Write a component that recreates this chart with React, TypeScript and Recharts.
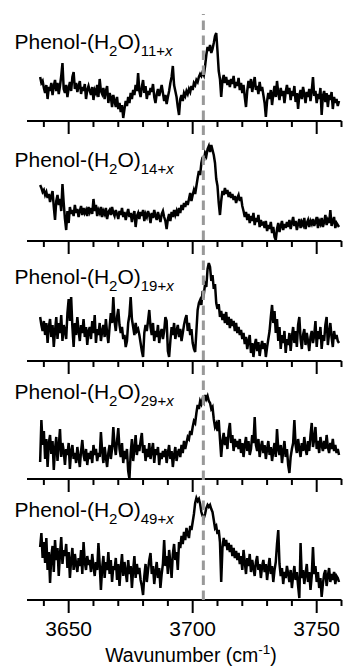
import { LineChart, Line, XAxis, YAxis, ReferenceLine } from "recharts";

// sampling grid of the spectra (cm^-1)
const startWavenumber = 3638.5;
const stepWavenumber = 0.5;

// signal heights, arbitrary units
const phenol11 = [
  44, 38, 40, 33, 28, 36, 22, 34, 30, 38, 26, 35, 41, 30, 38, 27, 35, 45, 58, 32,
  28, 36, 24, 33, 39, 30, 44, 49, 32, 38, 29, 35, 40, 27, 34, 30, 37, 22, 31, 35,
  30, 26, 34, 21, 31, 28, 36, 24, 42, 30, 27, 33, 22, 30, 35, 18, 28, 24, 14, 26,
  20, 14, 24, 12, 18, 9, 16, 3, 12, 20, 15, 24, 18, 28, 22, 31, 26, 36, 30, 48,
  30, 24, 34, 41, 28, 35, 22, 30, 26, 33, 29, 37, 24, 18, 27, 32, 25, 30, 36, 28,
  20, 26, 17, 24, 30, 38, 44, 55, 36, 30, 24, 14, 6, 22, 26, 20, 28, 25, 30, 27,
  32, 29, 35, 31, 38, 36, 41, 39, 44, 47, 45, 49, 46, 55, 66, 74, 70, 76, 68, 72,
  78, 85, 88, 70, 50, 42, 24, 40, 46, 38, 44, 36, 41, 34, 42, 37, 45, 33, 39, 35,
  43, 31, 38, 28, 36, 24, 14, 30, 40, 33, 42, 29, 37, 44, 31, 35, 27, 39, 30, 34,
  26, 18, 4, 20, 28, 22, 31, 16, 27, 35, 24, 40, 28, 21, 33, 25, 30, 18, 29, 36,
  27, 33, 21, 30, 25, 35, 19, 28, 12, 26, 31, 22, 34, 27, 18, 29, 24, 32, 20, 30,
  44, 25, 30, 18, 27, 22, 33, 6, 25, 30, 19, 28, 14, 26, 21, 29, 12, 24, 18, 22,
  15, 20,
];

const phenol14 = [
  56, 53, 49, 51, 46, 49, 43, 47, 39, 45, 50, 34, 21, 40, 46, 36, 42, 30, 57, 38,
  22, 11, 30, 18, 34, 27, 31, 25, 36, 28, 32, 24, 30, 35, 26, 33, 28, 31, 25, 34,
  29, 33, 27, 42, 30, 36, 25, 31, 28, 34, 24, 30, 27, 33, 22, 29, 31, 26, 34, 28,
  25, 31, 27, 22, 30, 26, 33, 24, 29, 21, 27, 32, 24, 28, 19, 26, 30, 14, 25, 28,
  22, 29, 25, 31, 20, 27, 24, 30, 26, 18, 28, 23, 31, 25, 21, 29, 24, 19, 27, 30,
  24, 20, 12, 22, 27, 20, 29, 24, 31, 26, 30, 25, 33, 28, 36, 31, 38, 34, 40, 36,
  42, 48, 40, 46, 51, 47, 55, 63, 70, 66, 78, 84, 80, 88, 85, 92, 95, 89, 96, 91,
  86, 78, 62, 55, 38, 26, 40, 50, 46, 53, 47, 51, 44, 49, 43, 47, 41, 45, 38, 43,
  46, 40, 44, 35, 30, 24, 29, 21, 27, 18, 25, 20, 28, 16, 23, 19, 26, 14, 21, 17,
  18, 13, 20, 10, 16, 12, 19, 8, 14, 4, 1, 12, 18, 9, 15, 20, 11, 17, 13, 19,
  14, 21, 12, 18, 24, 15, 20, 11, 17, 22, 13, 19, 16, 23, 12, 18, 21, 14, 20, 17,
  22, 15, 19, 24, 13, 20, 17, 23, 14, 19, 26, 16, 21, 18, 31, 15, 20, 24, 13, 18,
  16, 14,
];

const phenol19 = [
  44, 36, 30, 40, 26, 38, 18, 34, 42, 24, 36, 14, 30, 44, 22, 38, 28, 46, 20, 36,
  30, 22, 48, 62, 40, 64, 34, 14, 38, 26, 44, 30, 20, 36, 28, 42, 24, 34, 16, 30,
  34, 22, 40, 28, 46, 18, 32, 26, 38, 20, 30, 36, 24, 42, 28, 18, 34, 48, 38, 64,
  40, 30, 44, 52, 36, 28, 34, 22, 26, 14, 20, 38, 46, 64, 42, 34, 26, 38, 30, 32,
  26, 18, 10, 4, 28, 36, 30, 40, 51, 34, 26, 38, 20, 30, 24, 36, 18, 28, 32, 22,
  30, 44, 40, 10, 4, 20, 34, 26, 38, 22, 30, 36, 24, 32, 20, 28, 36, 42, 46, 30,
  38, 26, 32, 18, 12, 9, 30, 51, 58, 61, 56, 70, 67, 77, 74, 92, 98, 94, 80, 86,
  72, 77, 58, 52, 57, 44, 50, 41, 47, 38, 49, 36, 44, 33, 42, 35, 40, 30, 38, 28,
  34, 26, 31, 22, 28, 17, 24, 12, 20, 26, 8, 18, 4, 16, 22, 10, 19, 5, 14, 20,
  12, 18, 4, 14, 22, 30, 44, 56, 38, 50, 28, 42, 20, 34, 12, 26, 18, 30, 8, 22,
  16, 28, 10, 24, 34, 18, 30, 14, 36, 44, 22, 12, 26, 32, 16, 28, 20, 10, 24, 30,
  18, 26, 40, 14, 30, 22, 34, 12, 26, 20, 36, 44, 16, 28, 38, 24, 14, 30, 22, 26,
  20, 18,
];

const phenol29 = [
  17, 59, 34, 48, 20, 40, 12, 36, 44, 25, 38, 9, 30, 42, 18, 33, 50, 22, 36, 28,
  14, 30, 24, 36, 10, 28, 34, 20, 26, 16, 32, 22, 12, 28, 39, 24, 18, 30, 14, 26,
  20, 28, 16, 34, 24, 30, 18, 26, 22, 47, 28, 16, 32, 22, 12, 26, 34, 20, 30, 52,
  34, 24, 38, 51, 30, 22, 36, 16, 28, 20, 30, 8, 0, 26, 40, 18, 30, 44, 24, 34,
  28, 38, 46, 26, 34, 18, 30, 22, 36, 20, 28, 36, 16, 30, 24, 32, 14, 26, 20, 28,
  22, 30, 16, 26, 34, 20, 28, 12, 24, 32, 18, 26, 30, 22, 34, 26, 38, 30, 36, 42,
  40, 48, 44, 52, 58, 56, 66, 74, 70, 78, 75, 80, 77, 84, 80, 83, 78, 76, 70, 72,
  60, 52, 55, 48, 59, 40, 22, 38, 46, 34, 42, 30, 48, 56, 36, 44, 28, 40, 32, 38,
  30, 40, 26, 36, 22, 34, 42, 28, 38, 24, 30, 44, 36, 62, 34, 28, 40, 22, 32, 38,
  26, 34, 20, 30, 38, 24, 32, 18, 28, 36, 22, 50, 30, 24, 34, 16, 28, 38, 22, 30,
  14, 6, 22, 30, 36, 59, 34, 26, 40, 30, 22, 36, 28, 42, 30, 24, 38, 28, 44, 56,
  32, 40, 52, 30, 38, 26, 42, 34, 28, 38, 30, 44, 32, 26, 36, 30, 40, 28, 34, 26,
  30, 24,
];

const phenol49 = [
  53, 67, 42, 58, 37, 62, 30, 48, 17, 44, 54, 28, 60, 40, 52, 24, 46, 63, 36, 50,
  44, 56, 32, 48, 22, 40, 52, 30, 46, 36, 28, 42, 34, 50, 26, 58, 38, 30, 44, 35,
  40, 28, 46, 34, 24, 38, 30, 57, 36, 10, 32, 44, 22, 38, 30, 48, 26, 40, 18, 34,
  30, 42, 20, 36, 14, 32, 46, 24, 38, 28, 18, 40, 26, 34, 12, 30, 44, 22, 36, 26,
  32, 20, 14, 5, 24, 36, 18, 30, 40, 47, 26, 34, 16, 28, 38, 22, 32, 12, 26, 36,
  60, 34, 44, 26, 50, 38, 22, 46, 56, 40, 48, 30, 58, 52, 64, 56, 68, 60, 72, 66,
  62, 74, 70, 78, 86, 97, 102, 99, 101, 96, 88, 84, 82, 86, 92, 95, 93, 95, 91, 88,
  80, 72, 74, 66, 70, 58, 18, 52, 62, 54, 60, 50, 57, 48, 55, 44, 52, 42, 49, 40,
  47, 36, 44, 30, 50, 38, 26, 42, 34, 46, 28, 40, 32, 24, 38, 44, 30, 36, 22, 34,
  40, 28, 36, 20, 32, 42, 26, 34, 18, 30, 38, 56, 70, 36, 24, 32, 16, 28, 22, 34,
  26, 18, 30, 12, 24, 34, 20, 28, 14, 2, 57, 22, 30, 16, 26, 36, 18, 28, 10, 24,
  53, 26, 34, 18, 28, 12, 22, 3, 16, 26, 30, 14, 24, 32, 18, 26, 20, 28, 16, 24,
  22, 18,
];

const clusterSizes = ["11+", "14+", "19+", "29+", "49+"];
const spectra = [phenol11, phenol14, phenol19, phenol29, phenol49];
const axisTicks = [3640, 3650, 3660, 3670, 3680, 3690, 3700, 3710, 3720, 3730, 3740, 3750, 3760];
const xDomain = [3633.2, 3760];
const markerWavenumber = 3704.3;

// layout
const W = 344;
const H = 666;
const PLOT_H = 110;
const axisYs = [121, 241, 361, 479, 600];
const labelYs = [49, 167, 284, 399, 517];
const FONT = "'Liberation Sans', Arial, Helvetica, sans-serif";
const MARGIN = { top: 0, right: 2.5, bottom: 0, left: 27 };

const toRows = (values: number[]) =>
  values.map((v, i) => ({ w: startWavenumber + i * stepWavenumber, v }));

function Tick(props: any) {
  const { x, y, payload, showLabel } = props;
  const major = payload.value % 50 === 0;
  return (
    <g>
      <line x1={x} x2={x} y1={y} y2={y + (major ? 13 : 6)} stroke="#000" strokeWidth={2} />
      {showLabel && major && (
        <text x={x} y={y + 36} textAnchor="middle" fontSize={21} fontFamily={FONT} fill="#000">
          {payload.value}
        </text>
      )}
    </g>
  );
}

function Panel({ index }: { index: number }) {
  const last = index === spectra.length - 1;
  const top = axisYs[index] - PLOT_H;
  const height = last ? H - top : PLOT_H + 20;
  const ly = labelYs[index] - top;

  return (
    <div style={{ position: "absolute", left: 0, top }}>
      <LineChart width={W} height={height} data={toRows(spectra[index])} margin={MARGIN}>
        <XAxis
          dataKey="w"
          type="number"
          domain={xDomain}
          ticks={axisTicks}
          interval={0}
          allowDataOverflow
          axisLine={{ stroke: "#000", strokeWidth: 2 }}
          tickLine={false}
          tickSize={0}
          tickMargin={0}
          height={height - PLOT_H}
          tick={<Tick showLabel={last} />}
        />
        <YAxis hide domain={[0, PLOT_H]} />
        <Line
          type="linear"
          dataKey="v"
          stroke="#000"
          strokeWidth={2.5}
          strokeLinejoin="miter"
          dot={false}
          isAnimationActive={false}
        />
        <text x={14.5} y={ly} fontSize={21} fontFamily={FONT} fill="#000">
          Phenol-(H
          <tspan dy={7} fontSize={15}>2</tspan>
          <tspan dy={-7}>O)</tspan>
          <tspan dy={7} fontSize={15}>{clusterSizes[index]}</tspan>
          <tspan fontSize={15} fontStyle="italic">x</tspan>
        </text>
        {last && (
          <text x={191} y={171.5} textAnchor="middle" fontSize={19.5} fontFamily={FONT} fill="#000">
            Wavunumber (cm
            <tspan dy={-8} fontSize={13.5}>-1</tspan>
            <tspan dy={8}>)</tspan>
          </text>
        )}
      </LineChart>
    </div>
  );
}

export default function App() {
  return (
    <div style={{ position: "absolute", left: 0, top: 0, width: W, height: H, background: "#fff" }}>
      {spectra.map((_, i) => (
        <Panel key={i} index={i} />
      ))}
      <div style={{ position: "absolute", left: 0, top: 0 }}>
        <LineChart
          width={W}
          height={H}
          data={toRows(phenol11)}
          margin={{ ...MARGIN, top: 14, bottom: H - axisYs[4] }}
        >
          <XAxis dataKey="w" type="number" domain={xDomain} allowDataOverflow hide />
          <YAxis hide domain={[0, PLOT_H]} />
          <Line dataKey="v" stroke="none" strokeOpacity={0} dot={false} isAnimationActive={false} />
          <ReferenceLine
            x={markerWavenumber}
            stroke="#999"
            strokeWidth={3}
            strokeDasharray="9.5 5.5"
            ifOverflow="visible"
          />
        </LineChart>
      </div>
    </div>
  );
}
